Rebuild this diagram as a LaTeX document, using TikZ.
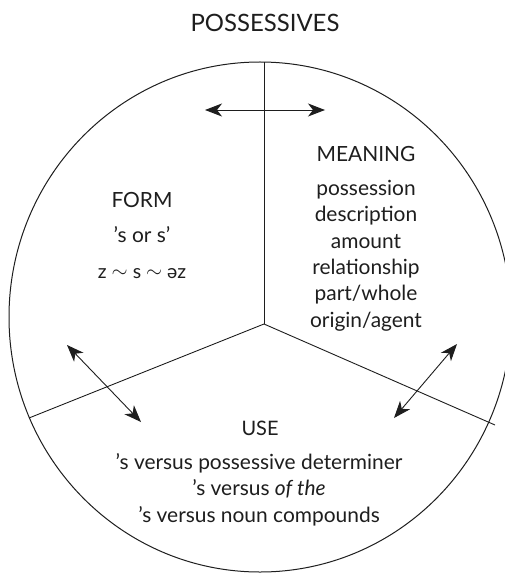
\documentclass[tikz,border=0pt]{standalone}
\usepackage{fontspec}
\setmainfont{Lato}
\usetikzlibrary{arrows.meta}
\definecolor{ink}{HTML}{1E1E1E}
\begin{document}
\begin{tikzpicture}[x=1bp,y=-1bp,
  outline/.style={draw=ink,line width=1bp},
  spoke/.style={draw=ink,line width=0.9bp},
  dbl/.style={draw=ink,line width=0.9bp,{Stealth[length=17bp,width=13bp,inset=5bp]}-{Stealth[length=17bp,width=13bp,inset=5bp]}},
  lbl/.style={text=ink,inner sep=0pt,anchor=base,font=\fontsize{21}{26.4}\selectfont,align=center},
  heading/.style={lbl,font=\fontsize{21}{26.4}\selectfont},
]
\useasboundingbox (0,0) rectangle (505,575);
\fill[white] (0,0) rectangle (505,575);
% circle
\draw[outline] (260,317) ellipse [x radius=251, y radius=255];
% spokes
\coordinate (hub) at (264,324);
\coordinate (top) at (264,62);
\coordinate (lend) at (29,418);
\coordinate (rend) at (495,425);
\draw[spoke] (hub) -- (top);
\draw[spoke] (hub) -- (lend);
\draw[spoke] (hub) -- (rend);
% arrows
\coordinate (ta) at (205,110);
\coordinate (tb) at (325,110);
\coordinate (la) at (67,345);
\coordinate (lb) at (141,422);
\coordinate (ra) at (457,344);
\coordinate (rb) at (394,418);
\draw[dbl] (ta) -- (tb);
\draw[dbl] (la) -- (lb);
\draw[dbl] (ra) -- (rb);
% texts
\node[heading,font=\fontsize{24}{28}\selectfont] (title) at (265,32) {POSSESSIVES};
\node[heading] (form) at (142,207) {FORM};
\node[lbl] (formA) at (142,242) {’s or s’};
\node[lbl,font=\fontsize{19.5}{26.4}\selectfont] (formB) at (142,278) {z \raisebox{0.1ex}{$\sim$} s \raisebox{0.1ex}{$\sim$} əz};
\node[heading] (meaning) at (366,162) {MEANING};
\node[lbl] (meanlist) at (366,327) {possession\\description\\amount\\relationship\\part/whole\\origin/agent};
\node[heading,font=\fontsize{20}{26.4}\selectfont] (use) at (260,435) {USE};
\node[lbl] (uselist) at (259,522) {’s versus possessive determiner\\’s versus \textit{of the}\\’s versus noun compounds};
\end{tikzpicture}
\end{document}
